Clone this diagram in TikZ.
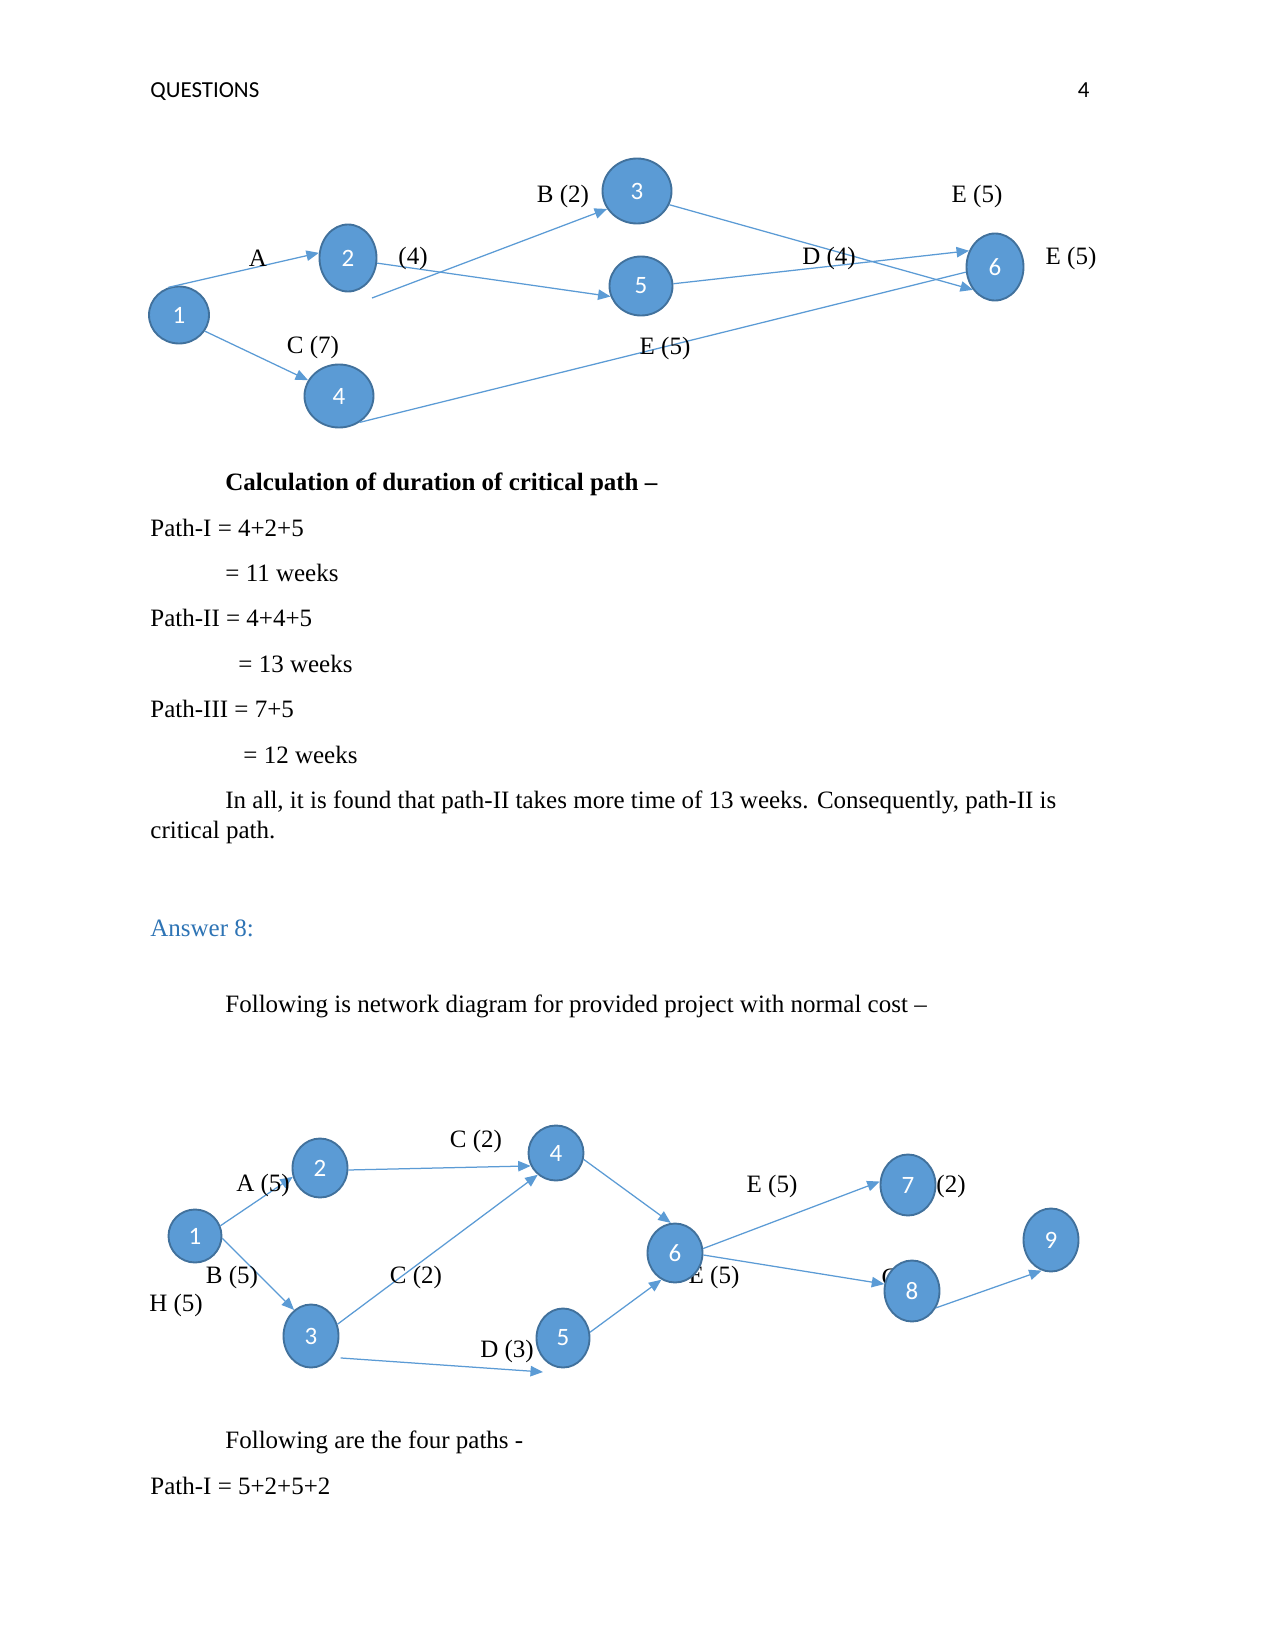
\documentclass[tikz,border=0pt]{standalone}
\usepackage{fontspec}
\setmainfont{Liberation Serif}
\newfontfamily\calibri{Carlito}
\usepackage{xcolor}
\usetikzlibrary{arrows.meta, shapes.geometric}
\definecolor{evtblue}{HTML}{5B9BD5}
\definecolor{evtedge}{HTML}{41719C}
\definecolor{headblue}{HTML}{2E74B5}

\begin{document}
\begin{tikzpicture}[
  x=0.48pt, y=-0.48pt,
  evt/.style={ellipse, draw=evtedge, fill=evtblue, line width=0.9pt,
              inner sep=0pt, text=white,
              font=\calibri\fontsize{12}{14}\selectfont},
  sz/.style 2 args={minimum width=#1*0.48pt, minimum height=#2*0.48pt},
  act/.style={draw=evtblue, line width=0.6pt,
              -{Triangle[length=6pt, width=5pt]}},
  plain/.style={draw=evtblue, line width=0.6pt},
  lbl/.style={inner sep=0pt, font=\fontsize{12}{14}\selectfont},
  txt/.style={inner sep=0pt, anchor=base west,
              font=\fontsize{12}{14}\selectfont}
]

% === Page ===
\useasboundingbox[fill=white] (0,0) rectangle (1275,1651);

% === Header ===
\node[txt, font=\calibri\fontsize{11}{13}\selectfont] (head) at (150,98) {QUESTIONS};
\node[txt, anchor=base east, font=\calibri\fontsize{11}{13}\selectfont] (pageno) at (1090,98) {4};

% === First network: events ===
\node[evt, sz={60}{57}] (t1) at (179,315) {1};
\node[evt, sz={57}{67}] (t2) at (348,258) {2};
\node[evt, sz={69}{65}] (t3) at (637,191) {3};
\node[evt, sz={63}{59}] (t5) at (641,286) {5};
\node[evt, sz={69}{63}] (t4) at (339,396) {4};
\node[evt, sz={57}{67}] (t6) at (995,267) {6};
\coordinate (tfree) at (372,298);

% === First network: activities ===
\draw[act] (t1.111) -- (t2.170);
\draw[act] (t1.328) -- (t4.153);
\draw[act] (tfree) -- (t3.211);
\draw[act] (t2.350) -- (t5.199);
\draw[act] (t3.337) -- (t6.226);
\draw[act] (t5.4) -- (t6.148);
\draw[plain] (t4.308) -- (t6.190);

% === First network: labels ===
\node[lbl] (tA) at (258,258) {A};
\node[lbl] (tAd) at (413,258) {(4)};
\node[lbl] (tB) at (563,196) {B (2)};
\node[lbl] (tC) at (313,347) {C (7)};
\node[lbl] (tE1) at (665,348) {E (5)};
\node[lbl] (tD) at (829,258) {D (4)};
\node[lbl] (tE2) at (977,196) {E (5)};
\node[lbl] (tE3) at (1071,258) {E (5)};

% === Text ===
\node[txt] (calc) at (225,490) {\textbf{Calculation of duration of critical path –}};
\node[txt] (p1) at (150,536) {Path-I = 4+2+5};
\node[txt] (p1w) at (225,581) {= 11 weeks};
\node[txt] (p2) at (150,626) {Path-II = 4+4+5};
\node[txt] (p2w) at (238,672) {= 13 weeks};
\node[txt] (p3) at (150,717) {Path-III = 7+5};
\node[txt] (p3w) at (243,763) {= 12 weeks};
\node[txt] (inall) at (225,808) {In all, it is found that path-II takes more time of 13 weeks. Consequently, path-II is};
\node[txt] (crit) at (150,838) {critical path.};
\node[txt, text=headblue] (ans) at (150,936) {Answer 8:};
\node[txt] (foll) at (225,1012) {Following is network diagram for provided project with normal cost –};

% === Second network: labels hidden behind events ===
\node[lbl] (mE2) at (714,1277) {E (5)};
\node[lbl] (mC3) at (890,1277) {C};

% === Second network: events ===
\begin{scope}[every node/.append style={font=\calibri\fontsize{11}{13}\selectfont}]
\node[evt, sz={53}{53}] (m1) at (195,1236) {1};
\node[evt, sz={55}{59}] (m2) at (320,1168) {2};
\node[evt, sz={55}{55}] (m4) at (556,1153) {4};
\node[evt, sz={55}{63}] (m3) at (311,1336) {3};
\node[evt, sz={53}{59}] (m5) at (563,1338) {5};
\node[evt, sz={55}{59}] (m6) at (675,1253) {6};
\node[evt, sz={55}{61}] (m7) at (908,1185) {7};
\node[evt, sz={55}{61}] (m8) at (912,1291) {8};
\node[evt, sz={55}{63}] (m9) at (1051,1240) {9};
\end{scope}
\coordinate (mfree) at (543,1372);

% === Second network: activities ===
\draw[act] (m1.22) -- (m2.198);
\draw[act] (m1.355) -- (m3.123);
\draw[act] (m2.356) -- (m4.207);
\draw[act] (m3.24) -- (m4.230);
\draw[act] (m4.347) -- (m6.98);
\draw[act, shorten <=4pt] (m3.315) -- (mfree);
\draw[act] (m5.12) -- (m6.243);
\draw[act] (m6.9) -- (m7.173);
\draw[act] (m6.356) -- (m8.166);
\draw[act] (m8.325) -- (m9.253);

% === Second network: labels ===
\node[lbl] (mA) at (263,1185) {A (5)};
\node[lbl] (mB) at (232,1277) {B (5)};
\node[lbl] (mH) at (176,1305) {H (5)};
\node[lbl] (mC1) at (476,1141) {C (2)};
\node[lbl] (mC2) at (416,1277) {C (2)};
\node[lbl] (mD) at (507,1351) {D (3)};
\node[lbl] (mE1) at (772,1186) {E (5)};
\node[lbl] (mG) at (951,1186) {(2)};

% === Text below ===
\node[txt] (four) at (225,1448) {Following are the four paths -};
\node[txt] (path1) at (150,1494) {Path-I = 5+2+5+2};

\end{tikzpicture}
\end{document}
